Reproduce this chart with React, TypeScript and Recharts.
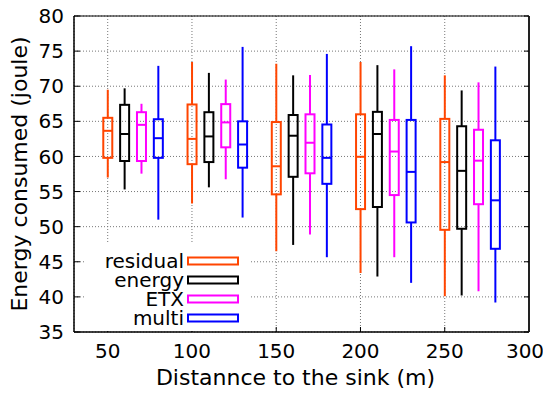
import React from 'react';
import { ComposedChart, Bar, XAxis, YAxis, CartesianGrid, Legend } from 'recharts';

// Distances (categories) and series
const distances = [50, 100, 150, 200, 250];
const seriesNames = ['residual', 'energy', 'ETX', 'multi'];
const seriesOffsets = [0, 10, 20, 30];
const seriesColors = ['#ff4500', '#000000', '#ff00ff', '#0000ff'];

// Box stats per distance: [min, q1, median, q3, max]
const residualStats = [
  [57.0, 59.8, 63.65, 65.5, 69.5],
  [53.3, 58.9, 62.5, 67.4, 73.45],
  [46.5, 54.6, 58.6, 64.9, 73.2],
  [43.4, 52.5, 59.95, 66.0, 73.45],
  [40.1, 49.55, 59.2, 65.35, 71.55],
];
const energyStats = [
  [55.3, 59.35, 63.2, 67.35, 69.7],
  [55.6, 59.2, 62.85, 66.3, 71.9],
  [47.4, 57.1, 62.95, 65.9, 71.55],
  [42.9, 52.8, 63.2, 66.35, 73.0],
  [40.2, 49.7, 57.95, 64.3, 69.4],
];
const etxStats = [
  [57.55, 59.35, 64.5, 66.3, 67.5],
  [56.75, 61.3, 64.85, 67.45, 70.95],
  [48.9, 57.6, 61.95, 66.0, 71.6],
  [45.65, 54.5, 60.7, 65.2, 72.4],
  [40.8, 53.2, 59.4, 63.8, 70.55],
];
const multiStats = [
  [51.0, 59.8, 62.6, 65.3, 72.9],
  [51.3, 58.4, 61.7, 65.0, 75.6],
  [45.65, 56.1, 59.8, 64.55, 74.6],
  [42.0, 50.6, 57.8, 65.2, 75.7],
  [39.2, 46.85, 53.75, 62.3, 72.8],
];

const xTicks = [50, 100, 150, 200, 250, 300];
const yTicks = [35, 40, 45, 50, 55, 60, 65, 70, 75, 80];

const allStats = [residualStats, energyStats, etxStats, multiStats];

const data = seriesNames
  .flatMap((name, si) =>
    distances.map((d, di) => {
      const [min, q1, med, q3, max] = allStats[si][di];
      return { x: d + seriesOffsets[si], series: si, name, min, q1, med, q3, max };
    })
  )
  .sort((a, b) => a.x - b.x);

const FONT = '"DejaVu Sans", sans-serif';

const BoxShape = (props: any) => {
  const { x, y, width, height } = props;
  const p = props.payload ?? props;
  if (p == null || p.min == null) return null;
  const { min, q1, med, q3, max, series } = p;
  const color = seriesColors[series];
  const top = y;
  const bottom = y + height;
  const py = (v: number) => top + ((max - v) / (max - min)) * (bottom - top);
  const cx = x + width / 2;
  return (
    <g>
      <line x1={cx} x2={cx} y1={py(max)} y2={py(q3)} stroke={color} strokeWidth={2} />
      <line x1={cx} x2={cx} y1={py(q1)} y2={py(min)} stroke={color} strokeWidth={2} />
      <rect x={x} y={py(q3)} width={width} height={py(q1) - py(q3)} fill="none" stroke={color} strokeWidth={2} />
      <line x1={x} x2={x + width} y1={py(med)} y2={py(med)} stroke={color} strokeWidth={2} />
    </g>
  );
};

const LegendBox = () => (
  <svg width={164} height={88} style={{ display: 'block' }}>
    <rect x={0} y={0} width={164} height={88} fill="#ffffff" />
    {seriesNames.map((n, i) => {
      const cy = 18 + i * 19;
      return (
        <g key={n}>
          <text x={98} y={cy + 7} textAnchor="end" fontFamily={FONT} fontSize={20} fill="#000">
            {n}
          </text>
          <rect x={102} y={cy - 3.5} width={50} height={7} fill="none" stroke={seriesColors[i]} strokeWidth={2} />
        </g>
      );
    })}
  </svg>
);

const YTitle = (props: any) => {
  const vb = props.viewBox || { x: 0, y: 16, width: 74, height: 316 };
  const cx = vb.x + 27;
  const cy = vb.y + vb.height / 2;
  return (
    <text x={cx} y={cy} transform={`rotate(-90 ${cx} ${cy})`} textAnchor="middle" fontFamily={FONT} fontSize={22} fill="#000">
      Energy consumed (joule)
    </text>
  );
};

const XTitle = (props: any) => {
  const vb = props.viewBox || { x: 74, y: 332, width: 455, height: 62 };
  const cx = vb.x + vb.width / 2 - 6;
  const cy = vb.y + 53;
  return (
    <text x={cx} y={cy} textAnchor="middle" fontFamily={FONT} fontSize={22} fill="#000">
      Distannce to the sink (m)
    </text>
  );
};

const XTick = (props: any) => {
  const { x, y, payload } = props;
  const last = payload.value === xTicks[xTicks.length - 1];
  return (
    <text x={x + (last ? -4 : 0)} y={y} dy="0.72em" textAnchor="middle" fontFamily={FONT} fontSize={20} fill="#000">
      {payload.value}
    </text>
  );
};

const tickStyle = { fontFamily: FONT, fontSize: 20, fill: '#000' };

export default function App() {
  return (
    <div style={{ position: 'absolute', left: 0, top: 0, width: 543, height: 394, background: '#fff' }}>
      <ComposedChart width={543} height={394} data={data} margin={{ top: 0, right: 0, bottom: 0, left: 0 }}>
        <CartesianGrid stroke="#777" strokeDasharray="1 2" strokeWidth={1} />
        <XAxis
          dataKey="x"
          type="number"
          domain={[30, 300]}
          ticks={xTicks}
          interval={0}
          allowDataOverflow
          height={62}
          axisLine={{ stroke: '#000', strokeWidth: 1.5 }}
          tickLine={{ stroke: '#000', strokeWidth: 1 }}
          tickSize={-5}
          tickMargin={17}
          tick={<XTick />}
          label={<XTitle />}
        />
        <XAxis
          xAxisId="top"
          orientation="top"
          type="number"
          domain={[30, 300]}
          ticks={xTicks}
          interval={0}
          allowDataOverflow
          height={16}
          axisLine={{ stroke: '#000', strokeWidth: 1 }}
          tickLine={{ stroke: '#000', strokeWidth: 1 }}
          tickSize={-5}
          tick={() => <g />}
        />
        <YAxis
          type="number"
          domain={[35, 80]}
          ticks={yTicks}
          interval={0}
          allowDataOverflow
          width={74}
          axisLine={{ stroke: '#000', strokeWidth: 1.5 }}
          tickLine={{ stroke: '#000', strokeWidth: 1 }}
          tickSize={-6}
          tickMargin={16}
          tick={tickStyle}
          label={<YTitle />}
        />
        <YAxis
          yAxisId="right"
          orientation="right"
          type="number"
          domain={[35, 80]}
          ticks={yTicks}
          interval={0}
          allowDataOverflow
          width={14}
          axisLine={{ stroke: '#222', strokeWidth: 2 }}
          tickLine={{ stroke: '#000', strokeWidth: 1 }}
          tickSize={-5}
          tick={() => <g />}
        />
        <Bar
          dataKey={(r: any) => [r.min, r.max]}
          barSize={9}
          shape={<BoxShape />}
          isAnimationActive={false}
        />
        <Legend
          layout="vertical"
          align="center"
          verticalAlign="middle"
          wrapperStyle={{ position: 'absolute', left: 86, top: 243, width: 164, height: 88 }}
          content={() => <LegendBox />}
        />
      </ComposedChart>
    </div>
  );
}
